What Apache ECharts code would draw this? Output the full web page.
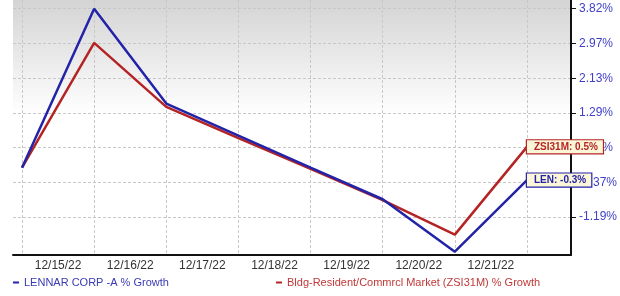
<!DOCTYPE html>
<html><head><meta charset="utf-8">
<script src="https://cdn.jsdelivr.net/npm/echarts@6/dist/echarts.min.js"></script>
<style>html,body{margin:0;padding:0;background:#fff}#c{width:620px;height:296px}</style>
</head><body><div id="c"></div>
<script>
// x positions of data points (index), tick labels placed between them
const dates = ['12/15/22','12/16/22','12/17/22','12/18/22','12/19/22','12/20/22','12/21/22'];
const pointIndex = [0, 1, 2, 3, 4, 5, 6, 7];
const lenValues = [0, 3.82, 1.54, 0.77, 0.00, -0.76, -2.02, -0.30];
const zsiValues = [0, 3.00, 1.46, 0.71, -0.03, -0.78, -1.61, 0.50];
const yTickValues = [3.82, 2.985, 2.15, 1.315, 0.48, -0.355, -1.19];
const yTickLabels = ['3.82%', '2.97%', '2.13%', '1.29%', '0.45%', '-0.37%', '-1.19%'];
const seriesNames = ['LENNAR CORP -A % Growth', 'Bldg-Resident/Commrcl Market (ZSI31M) % Growth'];
const endTags = ['LEN: -0.3%', 'ZSI31M: 0.5%'];

const BLUE = '#2323a8', RED = '#b52424';
const FONT = 'Arial, "Liberation Sans", sans-serif';
const chart = echarts.init(document.getElementById('c'), null, {renderer: 'canvas'});
const pair = (vals) => pointIndex.map((x, i) => [x, vals[i]]);

function endLabel(color, text) {
  return {
    show: true,
    formatter: () => text,
    color: color,
    fontFamily: FONT,
    fontSize: 10,
    fontWeight: 'bold',
    backgroundColor: '#fbf6d8',
    borderColor: color,
    borderWidth: 1.2,
    padding: [2, 5, 1, 7],
    distance: 0
  };
}

chart.setOption({
  animation: false,
  grid: {
    left: 13, top: 0, width: 558, height: 255,
    show: true, borderWidth: 0, borderColor: 'transparent',
    backgroundColor: new echarts.graphic.LinearGradient(0, 0, 0, 1, [
      {offset: 0, color: '#d4d4d4'}, {offset: 0.45, color: '#ffffff'}, {offset: 1, color: '#ffffff'}
    ])
  },
  legend: [{
    left: 8, top: 272, itemWidth: 6, itemHeight: 2, itemGap: 8,
    icon: 'rect', data: [seriesNames[0]],
    textStyle: {color: '#3a3ab4', fontSize: 11, fontFamily: FONT}
  }, {
    left: 271, top: 272, itemWidth: 6, itemHeight: 2,
    icon: 'rect', data: [seriesNames[1]],
    textStyle: {color: '#c03838', fontSize: 11, fontFamily: FONT}
  }],
  xAxis: {
    type: 'value', min: -0.125, max: 7.61,
    axisLine: {show: true, onZero: false, lineStyle: {color: '#111', width: 2}},
    axisTick: {show: false, customValues: pointIndex},
    splitLine: {show: true, lineStyle: {color: '#c8c8c8', type: [3, 2], width: 1}},
    axisLabel: {
      customValues: dates.map((d, i) => i + 0.5),
      formatter: (v) => dates[Math.round(v - 0.5)] || '',
      color: '#333', fontSize: 12, margin: 5, fontFamily: FONT
    }
  },
  yAxis: {
    type: 'value', position: 'right', min: -2.10, max: 4.03,
    axisLine: {show: true, onZero: false, lineStyle: {color: '#111', width: 2}},
    axisTick: {show: true, inside: false, length: 5, lineStyle: {color: '#111'}, customValues: yTickValues},
    splitLine: {show: true, lineStyle: {color: '#c8c8c8', type: [3, 2], width: 1}},
    axisLabel: {
      customValues: yTickValues,
      formatter: (v) => { const i = yTickValues.findIndex(t => Math.abs(t - v) < 1e-6); return i >= 0 ? yTickLabels[i] : ''; },
      color: '#4040c8', fontSize: 12, margin: 8, fontFamily: FONT
    }
  },
  series: [{
    name: seriesNames[0], type: 'line', data: pair(lenValues), z: 4,
    symbol: 'none', color: BLUE, lineStyle: {width: 2.5, color: BLUE},
    endLabel: endLabel(BLUE, endTags[0])
  }, {
    name: seriesNames[1], type: 'line', data: pair(zsiValues), z: 3,
    symbol: 'none', color: RED, lineStyle: {width: 2.5, color: RED},
    endLabel: endLabel(RED, endTags[1])
  }]
});
</script></body></html>
